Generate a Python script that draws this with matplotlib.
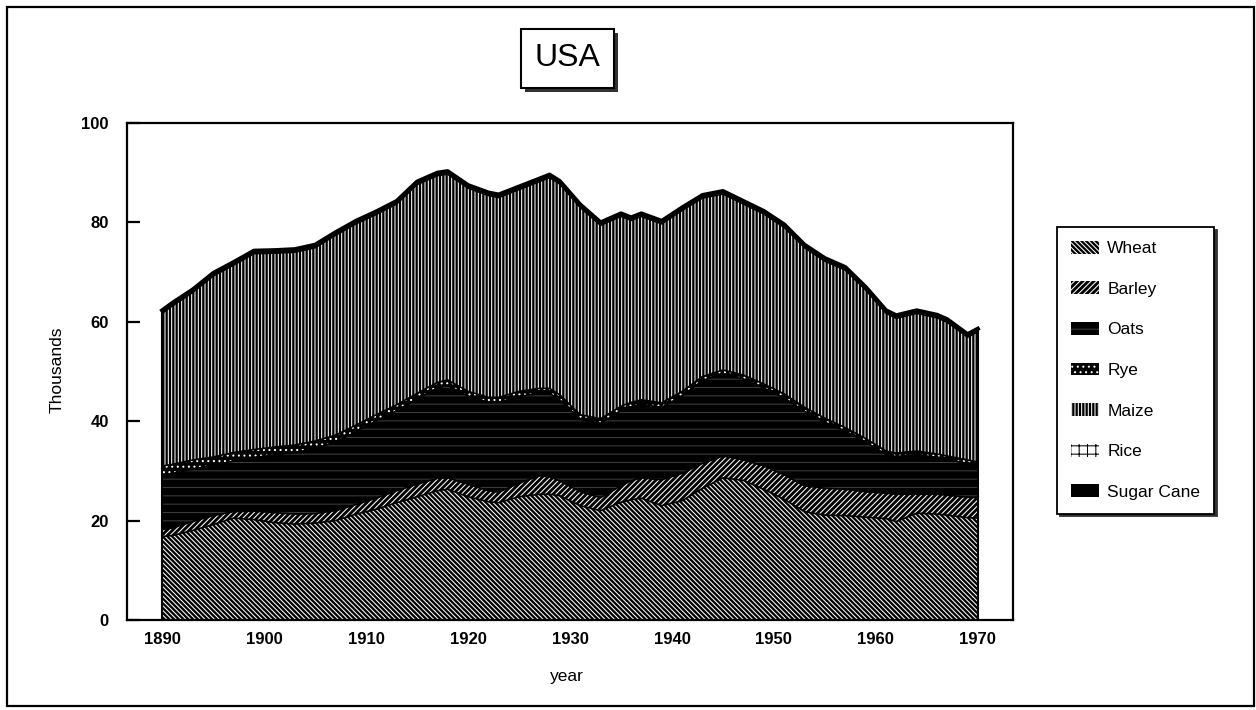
import matplotlib
matplotlib.use("Agg")
import matplotlib.pyplot as plt
from matplotlib.patches import Rectangle, Patch
import numpy as np

plt.rcParams['font.family'] = ['Liberation Sans', 'DejaVu Sans']
plt.rcParams['hatch.linewidth'] = 0.75

# ---------------- data (thousands) ----------------
years = [1890, 1891, 1893, 1895, 1897, 1899, 1901, 1903, 1905, 1907, 1909, 1911,
         1913, 1915, 1917, 1918, 1920, 1922, 1923, 1925, 1927, 1928, 1929, 1931,
         1933, 1935, 1936, 1937, 1939, 1941, 1943, 1945, 1947, 1949, 1951, 1953,
         1955, 1957, 1959, 1961, 1962, 1964, 1966, 1967, 1969, 1970]

wheat = [16.8, 17.0, 18.0, 19.2, 20.5, 20.2, 19.6, 19.3, 19.5, 20.0, 21.3, 22.3,
         23.6, 24.8, 26.0, 26.3, 24.8, 23.8, 23.6, 24.8, 25.3, 25.3, 25.0, 23.0,
         22.0, 23.7, 24.2, 24.5, 23.0, 24.0, 26.5, 28.6, 28.1, 26.3, 24.3, 21.8,
         21.1, 21.0, 20.7, 20.4, 19.8, 21.5, 21.3, 21.1, 20.6, 20.5]

barley = [1.4, 1.5, 1.8, 1.8, 1.3, 1.7, 2.0, 2.0, 1.9, 2.0, 1.9, 2.2,
          2.4, 2.5, 2.5, 2.3, 2.5, 2.2, 2.1, 2.7, 3.7, 3.5, 3.0, 2.8,
          2.6, 3.3, 3.8, 4.1, 5.2, 5.5, 5.0, 4.4, 4.1, 4.7, 4.9, 5.2,
          5.4, 5.3, 5.1, 5.1, 5.5, 3.8, 4.0, 4.0, 4.1, 4.1]

oats = [11.0, 11.0, 10.6, 10.1, 10.2, 10.8, 11.6, 12.4, 13.1, 13.8, 14.7, 15.6,
        16.1, 17.2, 18.2, 18.6, 17.7, 17.8, 18.1, 17.5, 16.6, 16.8, 16.3, 14.6,
        15.0, 15.1, 14.9, 14.8, 14.6, 15.6, 16.7, 16.5, 16.3, 15.7, 15.5, 15.0,
        13.3, 11.7, 10.0, 7.8, 7.6, 8.0, 7.4, 7.2, 6.8, 6.5]

rye = [1.8, 1.8, 1.8, 1.7, 1.7, 1.6, 1.6, 1.5, 1.5, 1.4, 1.3, 1.2,
       1.2, 1.1, 1.1, 1.1, 1.0, 1.0, 1.0, 1.0, 1.0, 1.0, 1.0, 0.9,
       0.9, 0.9, 0.9, 0.9, 0.9, 0.9, 0.8, 0.8, 0.8, 0.8, 0.8, 0.8,
       0.8, 0.7, 0.7, 0.7, 0.7, 0.7, 0.7, 0.7, 0.7, 0.7]

maize = [30.7, 31.9, 33.7, 36.4, 37.7, 39.4, 39.0, 38.8, 38.9, 40.2, 40.5, 40.3,
         40.4, 42.0, 41.6, 41.4, 40.9, 40.6, 40.2, 40.6, 41.6, 42.4, 42.4, 41.7,
         38.9, 38.2, 36.6, 36.9, 36.0, 36.4, 35.9, 35.4, 34.4, 34.2, 33.5, 32.1,
         31.6, 31.7, 29.9, 27.7, 27.1, 27.7, 27.4, 26.9, 24.7, 26.2]

rice = [0.2, 0.2, 0.2, 0.2, 0.2, 0.2, 0.2, 0.2, 0.2, 0.2, 0.2, 0.2,
        0.2, 0.2, 0.2, 0.2, 0.3, 0.3, 0.3, 0.3, 0.3, 0.3, 0.3, 0.3,
        0.3, 0.3, 0.3, 0.3, 0.3, 0.3, 0.3, 0.3, 0.3, 0.3, 0.3, 0.3,
        0.3, 0.3, 0.3, 0.3, 0.3, 0.3, 0.3, 0.3, 0.3, 0.3]

sugar_cane = [0.4, 0.4, 0.4, 0.4, 0.4, 0.4, 0.4, 0.4, 0.4, 0.4, 0.4, 0.4,
              0.4, 0.4, 0.4, 0.4, 0.3, 0.3, 0.3, 0.3, 0.3, 0.3, 0.3, 0.3,
              0.3, 0.3, 0.3, 0.3, 0.3, 0.3, 0.3, 0.3, 0.3, 0.3, 0.3, 0.3,
              0.3, 0.3, 0.3, 0.3, 0.3, 0.3, 0.3, 0.3, 0.3, 0.3]

labels = ['Wheat', 'Barley', 'Oats', 'Rye', 'Maize', 'Rice', 'Sugar Cane']
series = [wheat, barley, oats, rye, maize, rice, sugar_cane]

x_ticks = [1890, 1900, 1910, 1920, 1930, 1940, 1950, 1960, 1970]
y_ticks = [0, 20, 40, 60, 80, 100]

# ---------------- styles ----------------
styles = [
    dict(facecolor='black', edgecolor='white', hatch='\\' * 7),
    dict(facecolor='black', edgecolor='white', hatch='/' * 6),
    dict(facecolor='black', edgecolor='#3c3c3c', hatch='--'),
    dict(facecolor='black', edgecolor='white', hatch='...'),
    dict(facecolor='black', edgecolor='white', hatch='|' * 5),
    dict(facecolor='white', edgecolor='black', hatch='++'),
    dict(facecolor='black', edgecolor='black', hatch=None),
]

W, H = 1256, 710
fig = plt.figure(figsize=(W / 100, H / 100), dpi=100)
ax = fig.add_axes([127 / W, 1 - 620 / H, (1013 - 127) / W, (620 - 123) / H])

x = np.array(years, dtype=float)
stack = np.cumsum(np.array(series, dtype=float), axis=0)
base = np.zeros_like(x)
for i, st in enumerate(styles):
    top = stack[i]
    ax.fill_between(x, base, top, linewidth=0, zorder=2, **st)
    lw = 3.0 if i == len(styles) - 1 else 1.2
    ax.plot(x, top, color='black', lw=lw, zorder=3, solid_joinstyle='round')
    base = top
# side edges of the stacked area
ax.plot([x[0], x[0]], [0, stack[-1][0]], color='black', lw=1.5, zorder=3)
ax.plot([x[-1], x[-1]], [0, stack[-1][-1]], color='black', lw=1.5, zorder=3)

ax.set_xlim(1886.55, 1973.45)
ax.set_ylim(0, 100)
ax.set_xticks(x_ticks)
ax.set_yticks(y_ticks)
ax.tick_params(axis='x', length=0, pad=9, labelsize=12)
ax.tick_params(axis='y', direction='in', length=9, width=1.6, pad=13, labelsize=12)
for lab in ax.get_xticklabels() + ax.get_yticklabels():
    lab.set_fontweight('bold')
for sp in ax.spines.values():
    sp.set_linewidth(1.6)

fig.text(57 / W, 1 - 370 / H, 'Thousands', rotation=90, ha='center', va='center', fontsize=12.5)
fig.text(567 / W, 1 - 677 / H, 'year', ha='center', va='center', fontsize=12.5)

# title box with shadow
tx0, ty0, tx1, ty1 = 521, 29, 614, 88
fig.add_artist(Rectangle(((tx0 + 4) / W, 1 - (ty1 + 4) / H), (tx1 - tx0) / W, (ty1 - ty0) / H,
                         transform=fig.transFigure, facecolor='#333333', edgecolor='none', zorder=5))
fig.add_artist(Rectangle((tx0 / W, 1 - ty1 / H), (tx1 - tx0) / W, (ty1 - ty0) / H,
                         transform=fig.transFigure, facecolor='white', edgecolor='black', lw=1.5, zorder=6))
fig.text((tx0 + tx1) / 2 / W, 1 - (ty0 + ty1) / 2 / H, 'USA', ha='center', va='center',
         fontsize=23, zorder=7)

# legend
handles = [Patch(facecolor=st['facecolor'], edgecolor=st['edgecolor'], hatch=st['hatch'], linewidth=0)
           for st in styles]
leg = ax.legend(handles, labels, loc='upper left', bbox_to_anchor=(1057 / W, 1 - 227 / H),
                bbox_transform=fig.transFigure, fontsize=12.5, frameon=True, fancybox=False,
                borderpad=0.8, labelspacing=1.45, handlelength=1.6, handleheight=0.75,
                handletextpad=0.5, borderaxespad=0,
                shadow={'color': '#333333', 'alpha': 1.0})
leg.get_frame().set_edgecolor('black')
leg.get_frame().set_linewidth(1.3)

# outer border
fig.add_artist(Rectangle((7 / W, 1 - 706 / H), (1254 - 7) / W, (706 - 7) / H,
                         transform=fig.transFigure, facecolor='none', edgecolor='black', lw=1.6))

fig.savefig('out.png', dpi=100)
